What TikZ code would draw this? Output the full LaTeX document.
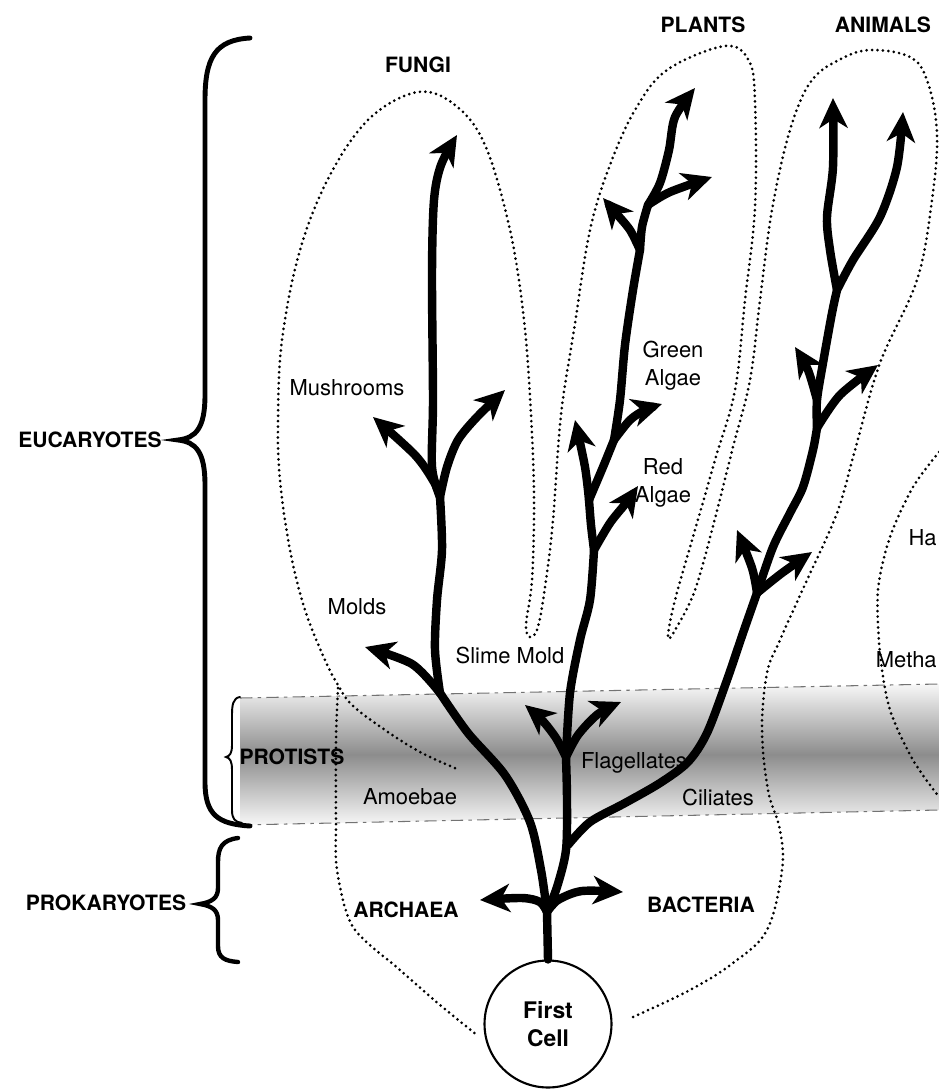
\documentclass[tikz,border=0pt]{standalone}
\usepackage{fontspec}
\setmainfont{TeX Gyre Heros}
\usetikzlibrary{arrows.meta}

\tikzset{
  branch/.style={line width=4.8pt, line cap=round, line join=round},
  sprout/.style={branch, -{Stealth[length=17pt, width=16pt, inset=5pt]}},
  outline/.style={line width=1.7pt, line cap=round, dash pattern=on 0pt off 3.1pt},
  bandline/.style={black!55, line width=0.6pt, dash pattern=on 7pt off 3pt on 2pt off 3pt},
  lbl/.style={font=\fontsize{12.5}{16}\selectfont, inner sep=0pt, align=center},
  kingdom/.style={font=\fontsize{12}{14}\selectfont\bfseries, inner sep=0pt},
  bracket/.style={line width=2.8pt, line cap=round}
}

\begin{document}
\begin{tikzpicture}[x=0.02cm, y=-0.02cm]
\useasboundingbox (0,0) rectangle (939,1089);

%% protist band
\shade[top color=black!3, bottom color=black!3, middle color=black!45] (240,698) -- (939,684) -- (939,810) -- (240,825) -- cycle;
\draw[bandline] (240,698) -- (939,684); %%Top
\draw[bandline] (240,825) -- (939,810); %%Bottom

%% dotted outlines
\draw[outline] plot[smooth, tension=0.6] coordinates {(455,768) (420,752) (385,730) (352,705) (338,685) (325,660) (305,610) (290,550) (280,480) (278,420) (282,340) (300,250) (330,175) (370,118) (418,92) (455,105) (485,145) (510,230) (524,320) (531,415) (534,500) (532,580) (526,625) (530,637) (538,627) (546,580) (553,520) (561,415) (574,330) (590,230) (610,165) (635,110) (667,70) (725,46) (749,61) (755,102) (755,207) (745,300) (735,390) (715,460) (695,530) (675,600) (668,638) (678,625) (695,590) (712,530) (733,447) (750,380) (760,300) (772,210) (790,130) (812,80) (845,57) (873,50) (910,57) (927,80) (937,133) (932,200) (917,280) (880,363) (855,450) (837,513) (807,580) (780,640) (767,673) (762,730) (768,790) (780,830) (782,870) (767,930) (733,963) (690,990) (633,1017)};
\draw[outline] plot[smooth] coordinates {(338,688) (336,740) (336,820) (337,870) (353,927) (400,970) (440,1005) (477,1035)};
\draw[outline] plot[smooth] coordinates {(939,452) (913,487) (890,537) (878,590) (880,653) (890,710) (913,760) (939,797)};

%% first cell
\node[circle, draw, line width=1.2pt, minimum size=2.54cm, inner sep=0pt, font=\fontsize{13}{16}\selectfont\bfseries, align=center] (cell) at (548,1024) {First\\Cell};

%% junctions and tips
\coordinate (root) at (547,912);
\coordinate (arch) at (480,900);
\coordinate (bact) at (623,892);
\coordinate (pa) at (568,845);
\coordinate (mj) at (440,693);
\coordinate (molds) at (365,647);
\coordinate (mush) at (440,497);
\coordinate (lmush) at (373,417);
\coordinate (rmush) at (505,390);
\coordinate (fungi) at (457,135);
\coordinate (fj) at (566,757);
\coordinate (lflag) at (525,705);
\coordinate (rflag) at (621,702);
\coordinate (rj) at (594,550);
\coordinate (red) at (638,486);
\coordinate (lj) at (589,500);
\coordinate (lup) at (575,420);
\coordinate (gj) at (614,440);
\coordinate (green) at (662,404);
\coordinate (uj) at (640,250);
\coordinate (uleft) at (603,198);
\coordinate (tj) at (648,205);
\coordinate (tright) at (712,177);
\coordinate (plants) at (695,88);
\coordinate (aj1) at (757,593);
\coordinate (a1l) at (737,530);
\coordinate (a1r) at (812,552);
\coordinate (aj2) at (817,428);
\coordinate (a2r) at (878,365);
\coordinate (aj3) at (817,400);
\coordinate (a3l) at (795,347);
\coordinate (aj4) at (837,290);
\coordinate (a4l) at (833,98);
\coordinate (a4r) at (903,112);

%% trunk, archaea, bacteria
\draw[branch] (cell.north) -- (root);
\draw[sprout] plot[smooth] coordinates {(root) (540,902) (522,898) (arch)};
\draw[sprout] plot[smooth] coordinates {(root) (558,900) (582,891) (bact)};

%% fungi
\draw[branch] plot[smooth] coordinates {(root) (541,870) (530,822) (505,775) (468,733) (mj)};
\draw[sprout] plot[smooth] coordinates {(mj) (412,664) (molds)};
\draw[branch] plot[smooth] coordinates {(mj) (435,650) (437,600) (442,550) (mush)};
\draw[sprout] plot[smooth] coordinates {(mush) (434,482) (415,455) (lmush)};
\draw[sprout] plot[smooth] coordinates {(mush) (447,467) (458,440) (477,417) (rmush)};
\draw[sprout] plot[smooth] coordinates {(mush) (432,467) (433,400) (432,273) (434,200) (441,165) (fungi)};

%% plants
\draw[branch] plot[smooth] coordinates {(root) (557,887) (566,850) (567,800) (fj)};
\draw[sprout] plot[smooth] coordinates {(fj) (556,738) (542,720) (lflag)};
\draw[sprout] plot[smooth] coordinates {(fj) (578,735) (598,714) (rflag)};
\draw[branch] plot[smooth] coordinates {(fj) (570,693) (580,640) (590,600) (rj)};
\draw[sprout] plot[smooth] coordinates {(rj) (610,523) (626,503) (red)};
\draw[branch] plot[smooth] coordinates {(rj) (591,525) (lj)};
\draw[sprout] plot[smooth] coordinates {(lj) (585,467) (lup)};
\draw[branch] plot[smooth] coordinates {(lj) (603,467) (gj)};
\draw[sprout] plot[smooth] coordinates {(gj) (630,420) (645,410) (green)};
\draw[branch] plot[smooth] coordinates {(gj) (620,400) (625,345) (633,290) (uj)};
\draw[sprout] plot[smooth] coordinates {(uj) (630,230) (615,212) (uleft)};
\draw[branch] plot[smooth] coordinates {(uj) (642,227) (tj)};
\draw[sprout] plot[smooth] coordinates {(tj) (670,192) (tright)};
\draw[sprout] plot[smooth] coordinates {(tj) (660,183) (669,150) (675,117) (plants)};

%% animals
\draw[branch] plot[smooth] coordinates {(pa) (590,822) (625,803) (660,783) (688,762) (707,733) (727,680) (743,633) (aj1)};
\draw[sprout] plot[smooth] coordinates {(aj1) (752,568) (a1l)};
\draw[sprout] plot[smooth] coordinates {(aj1) (782,573) (a1r)};
\draw[branch] plot[smooth] coordinates {(aj1) (773,547) (790,513) (803,487) (813,450) (aj2)};
\draw[sprout] plot[smooth] coordinates {(aj2) (840,395) (a2r)};
\draw[branch] plot[smooth] coordinates {(aj2) (aj3) (823,363) (832,313) (aj4)};
\draw[sprout] plot[smooth] coordinates {(aj3) (808,370) (a3l)};
\draw[sprout] plot[smooth] coordinates {(aj4) (830,250) (827,217) (833,167) (a4l)};
\draw[sprout] plot[smooth] coordinates {(aj4) (853,260) (880,217) (897,167) (a4r)};

%% braces
\draw[bracket] (250,38) .. controls (215,40) and (205,58) .. (205,100) -- (205,395) .. controls (205,428) and (196,438) .. (178,440) .. controls (196,442) and (205,452) .. (205,485) -- (205,782) .. controls (205,815) and (218,824) .. (250,826);
\draw[line width=1.1pt, line cap=round] (240,697) .. controls (233,698) and (232,705) .. (232,715) -- (232,745) .. controls (232,753) and (230,756) .. (226,757) .. controls (230,758) and (232,761) .. (232,770) -- (232,810) .. controls (232,819) and (235,822) .. (242,823);
\draw[bracket, line width=2.5pt] (238,838) .. controls (222,840) and (218,848) .. (218,862) -- (218,888) .. controls (218,898) and (212,902) .. (200,904) .. controls (212,906) and (218,910) .. (218,920) -- (218,946) .. controls (218,958) and (225,961) .. (238,962);

%% labels
\node[kingdom] (eucar) at (90,440) {EUCARYOTES};
\node[kingdom] (prokar) at (106,903) {PROKARYOTES};
\node[kingdom] (protists) at (292,757) {PROTISTS};
\node[kingdom] (fungilbl) at (418,65) {FUNGI};
\node[kingdom] (plantlbl) at (703,25) {PLANTS};
\node[kingdom] (animallbl) at (883,25) {ANIMALS};
\node[kingdom] (archlbl) at (406,910) {ARCHAEA};
\node[kingdom] (bactlbl) at (701,905) {BACTERIA};
\node[lbl] (mushlbl) at (347,388) {Mushrooms};
\node[lbl] (moldlbl) at (357,607) {Molds};
\node[lbl] (slimelbl) at (510,655) {Slime Mold};
\node[lbl] (greenlbl) at (673,366) {Green\\Algae};
\node[lbl] (redlbl) at (663,483) {Red\\Algae};
\node[lbl] (flaglbl) at (634,763) {Flagellates};
\node[lbl] (amoeblbl) at (410,797) {Amoebae};
\node[lbl] (cillbl) at (718,797) {Ciliates};
\node[lbl, anchor=east] (halolbl) at (937,538) {Ha};
\node[lbl, anchor=east] (methlbl) at (937,660) {Metha};
\end{tikzpicture}
\end{document}
